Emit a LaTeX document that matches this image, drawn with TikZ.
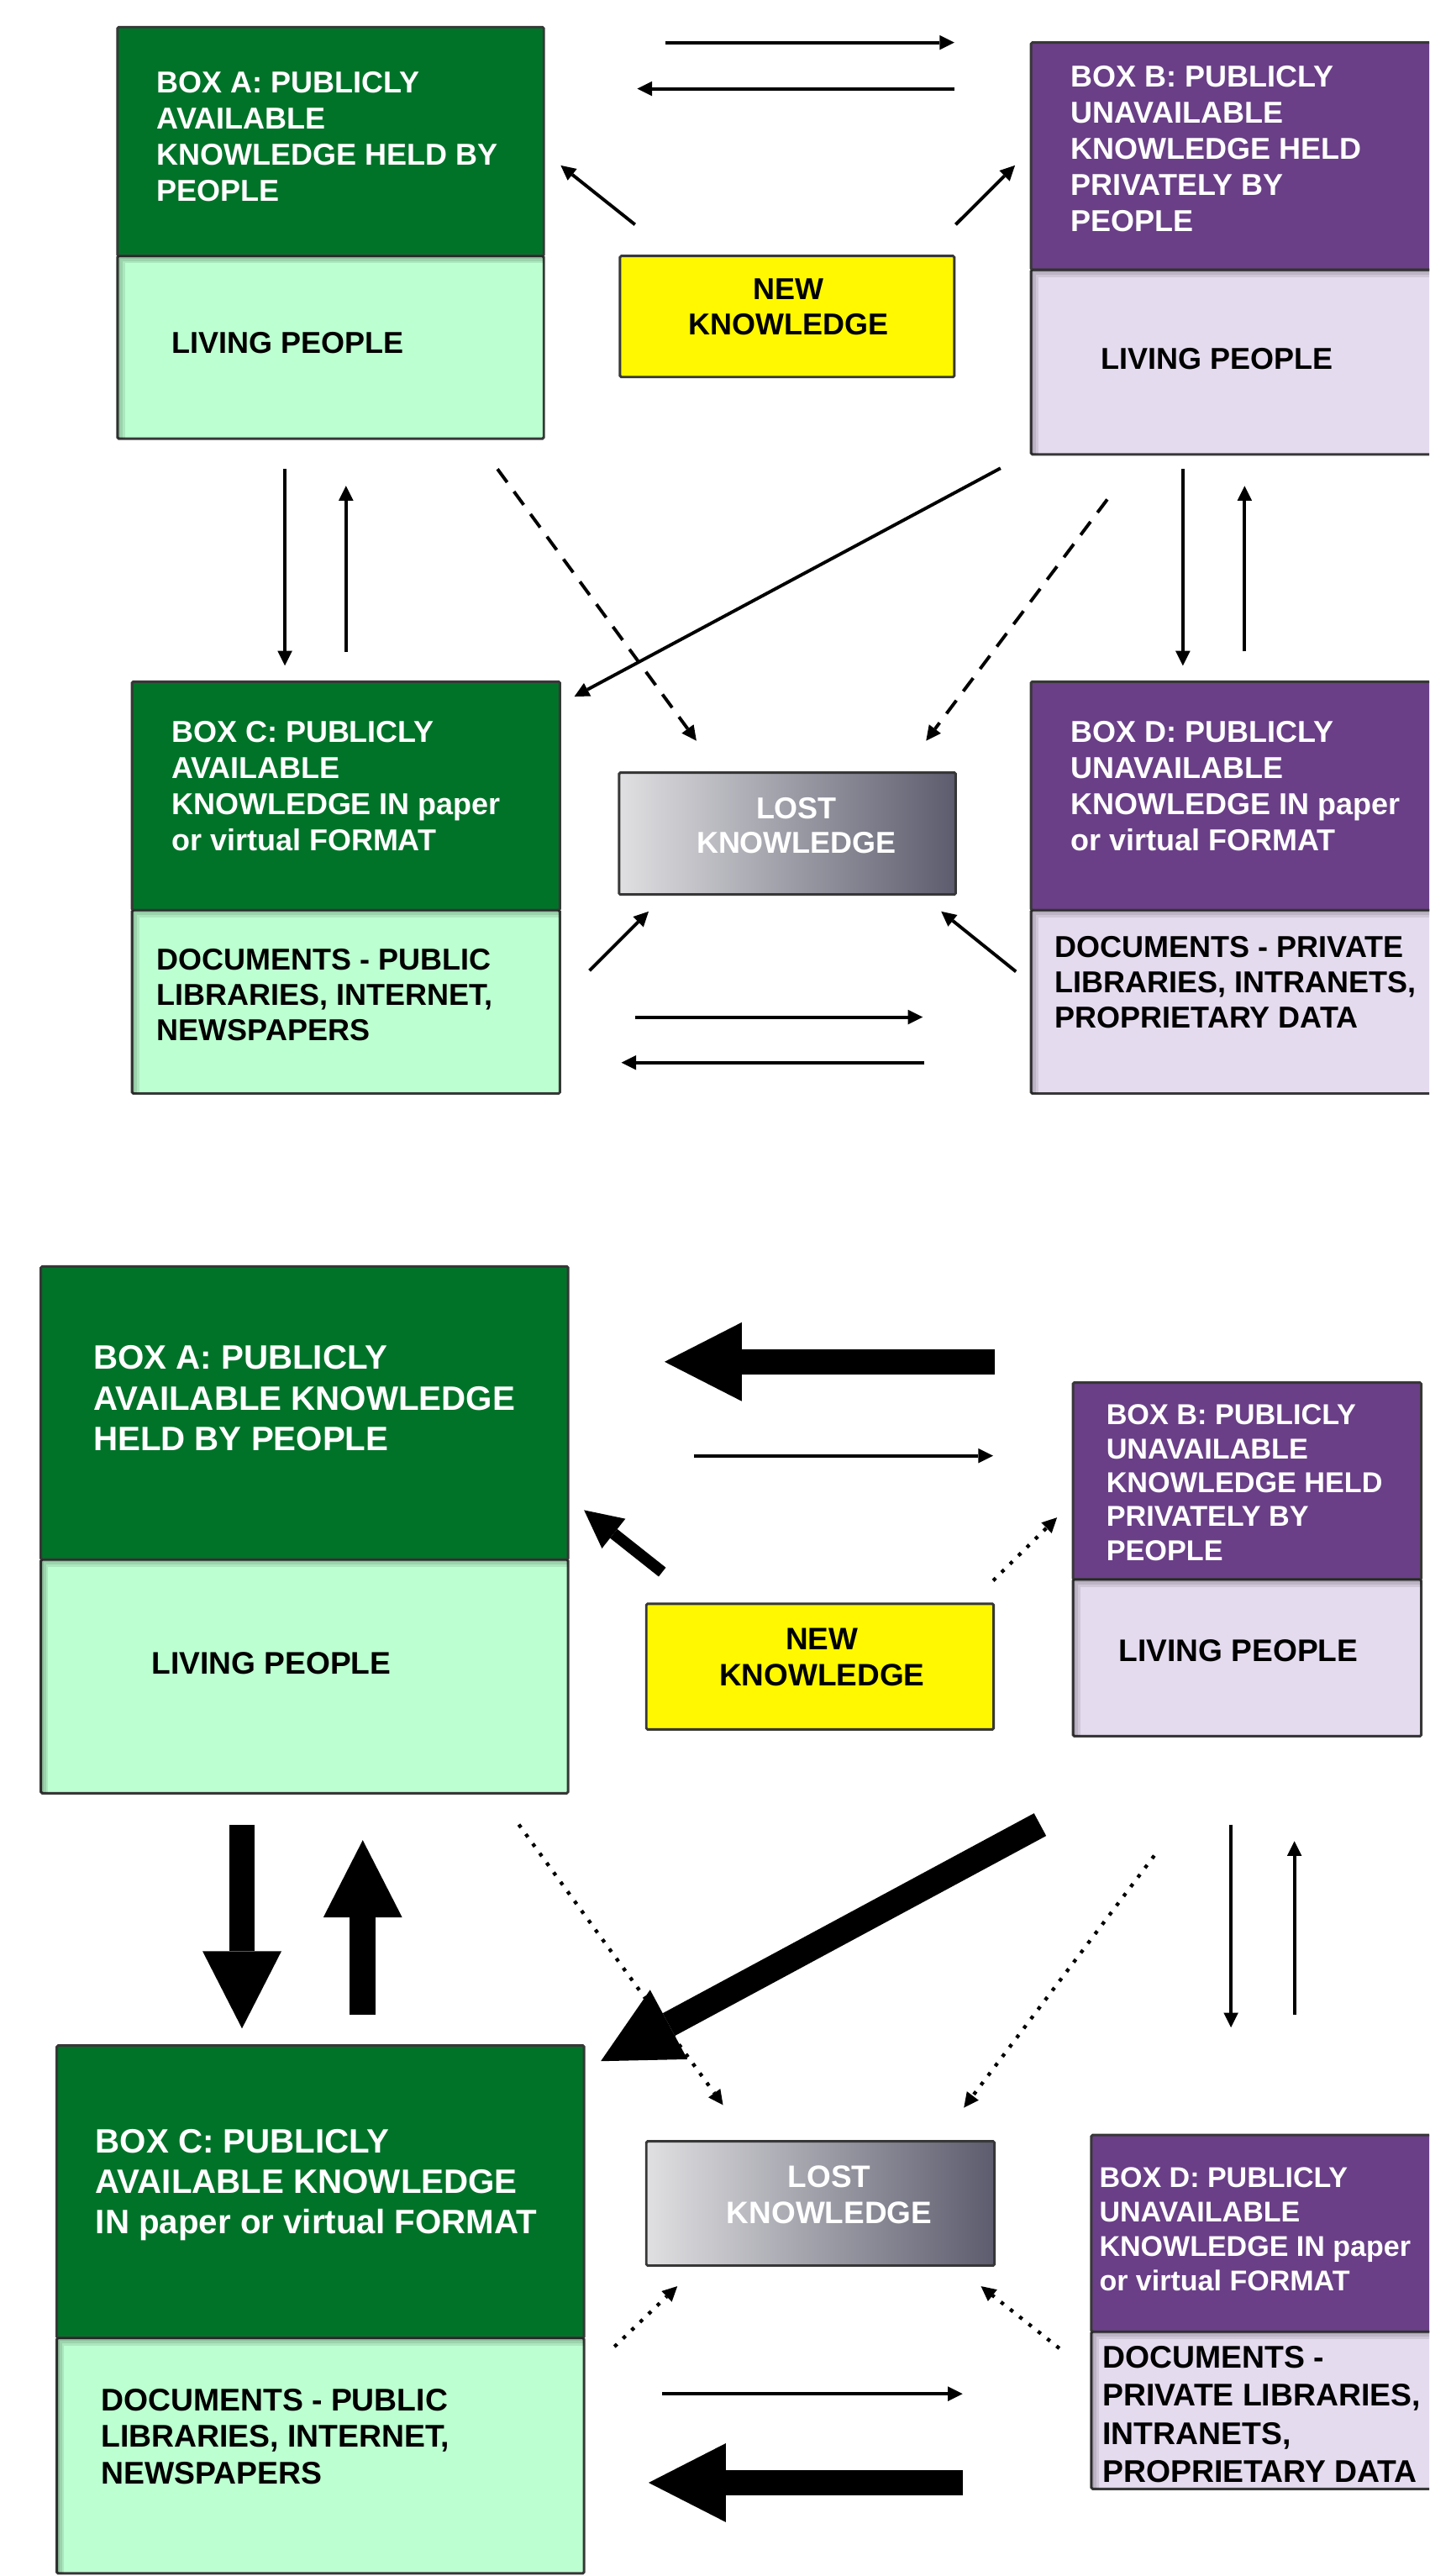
\documentclass[tikz,border=0pt]{standalone}
\usepackage{fontspec}
\setmainfont{Liberation Sans}
\usetikzlibrary{arrows.meta}
\definecolor{dgreen}{RGB}{0,115,41}
\definecolor{lgreen}{RGB}{188,255,209}
\definecolor{dpurple}{RGB}{106,63,135}
\definecolor{lpurple}{RGB}{229,219,239}
\definecolor{kyellow}{RGB}{255,248,0}
\definecolor{lostL}{RGB}{224,224,226}
\definecolor{lostR}{RGB}{92,92,110}
\definecolor{bordergray}{RGB}{55,55,55}
\newcommand\myinshadow[1]{%
  \begin{scope}
    \clip (#1.north west) rectangle (#1.south east);
    \foreach \w in {3,6,9}{\draw[black,opacity=0.09,line width=\w pt] (#1.south west) -- (#1.north west) -- (#1.north east);}
  \end{scope}}
\tikzset{
  box/.style={draw=bordergray, line width=1.5pt, inner sep=0pt, outer sep=0pt, anchor=north west, rounded corners=0.8pt},
  gbox/.style={box, fill=dgreen},
  lgbox/.style={box, fill=lgreen},
  pbox/.style={box, fill=dpurple},
  lpbox/.style={box, fill=lpurple},
  ybox/.style={box, fill=kyellow},
  lostbox/.style={box, left color=lostL, right color=lostR},
  tsize/.style 2 args={font=\bfseries\fontsize{#1}{#2}\selectfont},
  txt/.style={inner sep=0pt, outer sep=0pt, anchor=north west, align=left},
  ctxt/.style={inner sep=0pt, outer sep=0pt, anchor=north, align=center},
  wtxt/.style={txt, text=white},
  btxt/.style={txt, text=black},
  thinarr/.style={line width=2pt, -{Triangle[length=9pt,width=9pt,line width=0pt]}},
  dasharr/.style={thinarr, dash pattern=on 10pt off 7pt},
  dotarr/.style={line width=2.2pt, dash pattern=on 2.2pt off 5pt, -{Triangle[length=9pt,width=9pt,line width=0pt]}},
  medarr/.style={line width=7pt, -{Triangle[length=23pt,width=23pt,line width=0pt]}},
  bigarr/.style={line width=15.6pt, -{Triangle[length=47pt,width=48pt,line width=0pt]}},
}
\begin{document}
\begin{tikzpicture}[x=1pt,y=-1pt]
\useasboundingbox (0,0) rectangle (870,1568);
\clip (0,0) rectangle (870,1568);
\fill[white] (0,0) rectangle (870,1568);

% ================= TOP DIAGRAM =================
\node[gbox, minimum width=259.5pt, minimum height=139.3pt] (Aup) at (71.5,16.5) {};
\node[lgbox, minimum width=259.5pt, minimum height=111.2pt] (Alow) at (71.5,155.8) {};
\myinshadow{Alow}
\node[pbox, minimum width=250pt, minimum height=138.3pt] (Bup) at (627.6,25.9) {};
\node[lpbox, minimum width=250pt, minimum height=112.4pt] (Blow) at (627.6,164.2) {};
\myinshadow{Blow}
\node[ybox, minimum width=203.5pt, minimum height=73.7pt] (New) at (377.4,155.8) {};
\node[gbox, minimum width=260.4pt, minimum height=139.1pt] (Cup) at (80.4,414.9) {};
\node[lgbox, minimum width=260.4pt, minimum height=111.6pt] (Clow) at (80.4,554) {};
\myinshadow{Clow}
\node[lostbox, minimum width=204.9pt, minimum height=74.2pt] (Lost) at (376.8,470.3) {};
\node[pbox, minimum width=250pt, minimum height=139.1pt] (Dup) at (627.6,414.9) {};
\node[lpbox, minimum width=250pt, minimum height=111.6pt] (Dlow) at (627.6,554) {};
\myinshadow{Dlow}

\node[wtxt, tsize={18.4}{22}] (tA) at (95.6,43.5) {BOX A: PUBLICLY\\AVAILABLE\\KNOWLEDGE HELD BY\\PEOPLE};
\node[btxt, tsize={18.4}{22}] (tAl) at (104.7,202.4) {LIVING PEOPLE};
\node[ctxt, tsize={18.4}{21.6}] (tN) at (480,169.7) {NEW\\KNOWLEDGE};
\node[wtxt, tsize={18.4}{22}] (tB) at (651.8,40.2) {BOX B: PUBLICLY\\UNAVAILABLE\\KNOWLEDGE HELD\\PRIVATELY BY\\PEOPLE};
\node[btxt, tsize={18.4}{22}] (tBl) at (670.1,211.9) {LIVING PEOPLE};
\node[wtxt, tsize={18.4}{22}] (tC) at (104.4,438.8) {BOX C: PUBLICLY\\AVAILABLE\\KNOWLEDGE IN paper\\or virtual FORMAT};
\node[btxt, tsize={18.4}{21.5}] (tCl) at (95.6,577.6) {DOCUMENTS - PUBLIC\\LIBRARIES, INTERNET,\\NEWSPAPERS};
\node[ctxt, tsize={18.4}{21.3}, text=white] (tL) at (484.8,485.3) {LOST\\KNOWLEDGE};
\node[wtxt, tsize={18.4}{22}] (tD) at (651.8,438.8) {BOX D: PUBLICLY\\UNAVAILABLE\\KNOWLEDGE IN paper\\or virtual FORMAT};
\node[btxt, tsize={18.4}{21.6}] (tDl) at (642.3,569.9) {DOCUMENTS - PRIVATE\\LIBRARIES, INTRANETS,\\PROPRIETARY DATA};

% top connectors
\coordinate (p1s) at (405,25.9);     \coordinate (p1e) at (580.9,25.9);
\coordinate (p2s) at (580.9,54);     \coordinate (p2e) at (387.9,54);
\coordinate (p3s) at (386.5,136.7);  \coordinate (p3e) at (341.3,100.7);
\coordinate (p4s) at (581.7,136.7);  \coordinate (p4e) at (617.8,100.7);
\coordinate (p5s) at (173.4,285.6);  \coordinate (p5e) at (173.4,405.2);
\coordinate (p6s) at (210.6,396.9);  \coordinate (p6e) at (210.6,295.7);
\coordinate (p7s) at (302.8,285.5);  \coordinate (p7e) at (423.9,450.9);
\coordinate (p8s) at (609,285);      \coordinate (p8e) at (349.6,424);
\coordinate (p9s) at (674,304);      \coordinate (p9e) at (563.7,450.9);
\coordinate (p10s) at (720,285.6);   \coordinate (p10e) at (720,405.2);
\coordinate (p11s) at (757.6,396.5); \coordinate (p11e) at (757.6,295.8);
\coordinate (p12s) at (358.8,590.8); \coordinate (p12e) at (394.8,554.8);
\coordinate (p13s) at (618.4,591.4); \coordinate (p13e) at (572.9,554.8);
\coordinate (p14s) at (386.5,619.1); \coordinate (p14e) at (561.7,619.1);
\coordinate (p15s) at (562.8,646.8); \coordinate (p15e) at (378.2,646.8);

\draw[thinarr] (p1s) -- (p1e);
\draw[thinarr] (p2s) -- (p2e);
\draw[thinarr] (p3s) -- (p3e);
\draw[thinarr] (p4s) -- (p4e);
\draw[thinarr] (p5s) -- (p5e);
\draw[thinarr] (p6s) -- (p6e);
\draw[dasharr] (p7s) -- (p7e);
\draw[thinarr] (p8s) -- (p8e);
\draw[dasharr] (p9s) -- (p9e);
\draw[thinarr] (p10s) -- (p10e);
\draw[thinarr] (p11s) -- (p11e);
\draw[thinarr] (p12s) -- (p12e);
\draw[thinarr] (p13s) -- (p13e);
\draw[thinarr] (p14s) -- (p14e);
\draw[thinarr] (p15s) -- (p15e);

% ================= BOTTOM DIAGRAM =================
\node[gbox, minimum width=320.9pt, minimum height=178.4pt] (Aup2) at (24.9,770.9) {};
\node[lgbox, minimum width=320.9pt, minimum height=142.2pt] (Alow2) at (24.9,949.3) {};
\myinshadow{Alow2}
\node[pbox, minimum width=212pt, minimum height=119.8pt] (Bup2) at (653.1,841.6) {};
\node[lpbox, minimum width=212pt, minimum height=95.4pt] (Blow2) at (653.1,961.4) {};
\myinshadow{Blow2}
\node[ybox, minimum width=211.4pt, minimum height=76.5pt] (New2) at (393.4,976.2) {};
\node[gbox, minimum width=320.9pt, minimum height=178pt] (Cup2) at (34.6,1245.1) {};
\node[lgbox, minimum width=320.9pt, minimum height=143.3pt] (Clow2) at (34.6,1423.1) {};
\myinshadow{Clow2}
\node[lostbox, minimum width=211.9pt, minimum height=75.6pt] (Lost2) at (393.4,1303.4) {};
\node[pbox, minimum width=212pt, minimum height=119.7pt] (Dup2) at (664.3,1299.6) {};
\node[lpbox, minimum width=212pt, minimum height=95.7pt] (Dlow2) at (664.3,1419.3) {};
\myinshadow{Dlow2}

\node[wtxt, tsize={20.6}{24.6}] (tA2) at (56.8,819.2) {BOX A: PUBLICLY\\AVAILABLE KNOWLEDGE\\HELD BY PEOPLE};
\node[btxt, tsize={19}{22}] (tAl2) at (92.3,1005.5) {LIVING PEOPLE};
\node[wtxt, tsize={17.5}{20.7}] (tB2) at (673.4,854.9) {BOX B: PUBLICLY\\UNAVAILABLE\\KNOWLEDGE HELD\\PRIVATELY BY\\PEOPLE};
\node[btxt, tsize={19}{22}] (tBl2) at (680.9,998) {LIVING PEOPLE};
\node[ctxt, tsize={18.9}{21.9}] (tN2) at (500.3,991.1) {NEW\\KNOWLEDGE};
\node[wtxt, tsize={20.6}{24.7}] (tC2) at (58.2,1296) {BOX C: PUBLICLY\\AVAILABLE KNOWLEDGE\\IN paper or virtual FORMAT};
\node[btxt, tsize={19.1}{22.2}] (tCl2) at (61.5,1454.1) {DOCUMENTS - PUBLIC\\LIBRARIES, INTERNET,\\NEWSPAPERS};
\node[ctxt, tsize={18.9}{22}, text=white] (tL2) at (504.8,1318.2) {LOST\\KNOWLEDGE};
\node[wtxt, tsize={17.4}{20.9}] (tD2) at (669.2,1319.5) {BOX D: PUBLICLY\\UNAVAILABLE\\KNOWLEDGE IN paper\\or virtual FORMAT};
\node[btxt, tsize={19.1}{23.2}] (tDl2) at (671.2,1428.1) {DOCUMENTS -\\PRIVATE LIBRARIES,\\INTRANETS,\\PROPRIETARY DATA};

% bottom connectors
\coordinate (q1s) at (605.3,828.9);   \coordinate (q1e) at (404.5,828.9);
\coordinate (q2s) at (422.5,886.1);   \coordinate (q2e) at (604.5,886.1);
\coordinate (q3s) at (403.1,956.9);   \coordinate (q3e) at (355.5,919.2);
\coordinate (q4s) at (604.5,962.1);   \coordinate (q4e) at (643.4,923.7);
\coordinate (q5s) at (147.3,1110.7);  \coordinate (q5e) at (147.3,1234.7);
\coordinate (q6s) at (220.8,1226.2);  \coordinate (q6e) at (220.8,1120.1);
\coordinate (q7s) at (633.1,1110.6);  \coordinate (q7e) at (365.7,1254.6);
\coordinate (q8s) at (315.8,1110.6);  \coordinate (q8e) at (440.1,1281.3);
\coordinate (q9s) at (702.6,1129.5);  \coordinate (q9e) at (586.7,1282.9);
\coordinate (q10s) at (749.3,1110.6); \coordinate (q10e) at (749.3,1234.1);
\coordinate (q11s) at (787.9,1226.2); \coordinate (q11e) at (787.9,1120.7);
\coordinate (q12s) at (374,1428.4);   \coordinate (q12e) at (412.3,1391.6);
\coordinate (q13s) at (644.8,1429.4); \coordinate (q13e) at (597.1,1391.6);
\coordinate (q14s) at (403.1,1457.1); \coordinate (q14e) at (585.9,1457.1);
\coordinate (q15s) at (585.9,1511.2); \coordinate (q15e) at (394.8,1511.2);

\draw[bigarr] (q1s) -- (q1e);
\draw[thinarr] (q2s) -- (q2e);
\draw[medarr] (q3s) -- (q3e);
\draw[dotarr] (q4s) -- (q4e);
\draw[bigarr] (q5s) -- (q5e);
\draw[bigarr] (q6s) -- (q6e);
\draw[bigarr] (q7s) -- (q7e);
\draw[dotarr] (q8s) -- (q8e);
\draw[dotarr] (q9s) -- (q9e);
\draw[thinarr] (q10s) -- (q10e);
\draw[thinarr] (q11s) -- (q11e);
\draw[dotarr] (q12s) -- (q12e);
\draw[dotarr] (q13s) -- (q13e);
\draw[thinarr] (q14s) -- (q14e);
\draw[bigarr] (q15s) -- (q15e);
\end{tikzpicture}
\end{document}
